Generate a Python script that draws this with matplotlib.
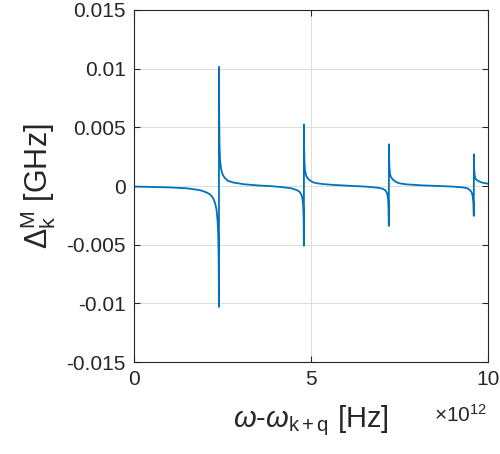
import numpy as np
import matplotlib
matplotlib.use("Agg")
import matplotlib.pyplot as plt

# =========================
# DATA (x in units of 1e12 Hz, y in units of 1e-3 GHz)
# =========================
# one branch per interval between resonances
branch_x = [
    [0.0, 0.5, 1.0, 1.5, 1.86, 2.05, 2.15, 2.23, 2.29, 2.33, 2.36, 2.38, 2.393, 2.399],
    [2.401, 2.405, 2.415, 2.43, 2.46, 2.5, 2.56, 2.65, 2.8, 3.1, 3.5, 3.9, 4.2, 4.45,
     4.6, 4.68, 4.73, 4.76, 4.78, 4.792, 4.799],
    [4.801, 4.806, 4.815, 4.83, 4.86, 4.92, 5.0, 5.07, 5.2, 5.35, 5.7, 6.2, 6.6, 6.9,
     7.04, 7.11, 7.15, 7.18, 7.19, 7.199],
    [7.201, 7.207, 7.215, 7.23, 7.26, 7.33, 7.42, 7.51, 7.7, 8.1, 8.6, 9.0, 9.3, 9.42,
     9.49, 9.54, 9.57, 9.59, 9.599],
    [9.601, 9.607, 9.615, 9.63, 9.66, 9.73, 9.8, 9.9, 10.0],
]
branch_y = [
    [-0.05, -0.08, -0.12, -0.2, -0.35, -0.55, -0.72, -1.0, -1.45, -2.0, -2.9, -4.2, -6.5, -10.3],
    [10.15, 6.5, 3.6, 2.2, 1.45, 1.0, 0.7, 0.45, 0.3, 0.15, 0.05, -0.02, -0.1, -0.2,
     -0.35, -0.5, -0.75, -1.1, -1.7, -2.8, -5.1],
    [5.25, 3.4, 2.1, 1.35, 0.9, 0.6, 0.42, 0.3, 0.22, 0.16, 0.08, 0.0, -0.06, -0.15,
     -0.25, -0.4, -0.65, -1.1, -1.8, -3.4],
    [3.55, 2.4, 1.6, 1.05, 0.75, 0.5, 0.32, 0.22, 0.14, 0.06, 0.0, -0.05, -0.12, -0.2,
     -0.35, -0.55, -0.9, -1.5, -2.55],
    [2.7, 1.8, 1.2, 0.8, 0.55, 0.42, 0.32, 0.25, 0.2],
]

x_ticks = [0, 5, 10]
x_ticklabels = ["0", "5", "10"]
y_ticks = [-0.015, -0.01, -0.005, 0, 0.005, 0.01, 0.015]
y_ticklabels = ["-0.015", "-0.01", "-0.005", "0", "0.005", "0.01", "0.015"]

# =========================
# STYLE
# =========================
plt.rcParams["font.family"] = ["Liberation Sans", "DejaVu Sans"]
plt.rcParams["mathtext.fontset"] = "custom"
plt.rcParams["mathtext.rm"] = "Liberation Sans"
plt.rcParams["mathtext.it"] = "Liberation Sans:italic"

dark = "#262626"
line_col = "#0072BD"

fig = plt.figure(figsize=(5.0, 4.54), dpi=100)
ax = fig.add_axes([0.268, 0.2026, 0.708, 0.7754])

xs = np.concatenate([np.array(b) for b in branch_x])
ys = np.concatenate([np.array(b) for b in branch_y]) * 1e-3
ax.plot(xs, ys, color=line_col, lw=1.3)

ax.set_xlim(0, 10)
ax.set_ylim(-0.015, 0.015)
ax.set_xticks(x_ticks)
ax.set_xticklabels(x_ticklabels)
ax.set_yticks(y_ticks)
ax.set_yticklabels(y_ticklabels)

ax.grid(True, color="#dcdcdc", lw=0.7)
ax.set_axisbelow(True)
ax.tick_params(direction="in", length=4, width=0.8, colors=dark,
               labelsize=15, top=True, right=True, pad=6)
for s in ax.spines.values():
    s.set_color(dark)
    s.set_linewidth(0.8)

ax.set_xlabel(r"$\omega$-$\omega_{\mathrm{k+q}}$ [Hz]", fontsize=21, color=dark, labelpad=10)
ax.set_ylabel(r"$\Delta_{\mathrm{k}}^{\mathrm{M}}$ [GHz]", fontsize=22, color=dark, labelpad=6)
ax.text(0.997, -0.12, r"$\times\mathrm{10^{12}}$", transform=ax.transAxes,
        ha="right", va="top", fontsize=15, color=dark)

plt.savefig("out.png", dpi=100)
